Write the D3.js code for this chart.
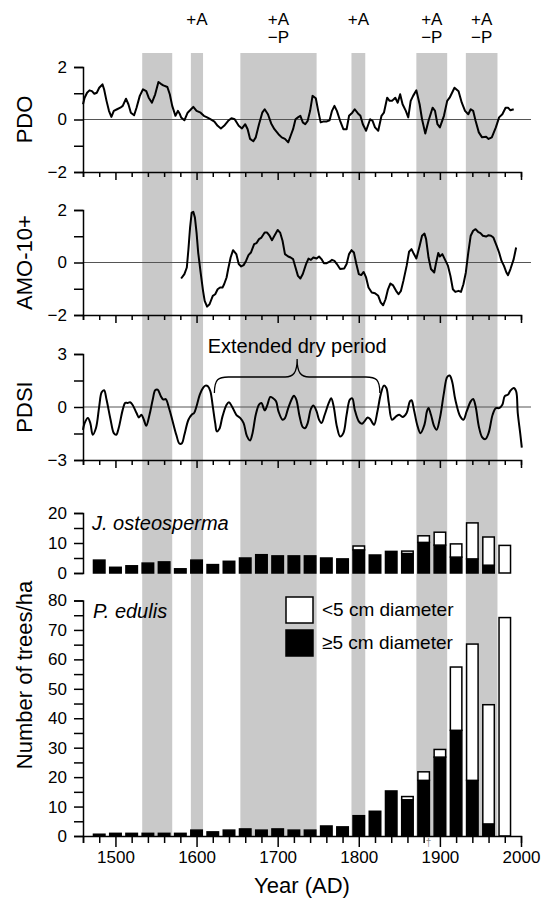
<!DOCTYPE html>
<html>
<head>
<meta charset="utf-8">
<script src="https://cdn.jsdelivr.net/npm/d3@7"></script>
<style>
  body { margin: 0; background: #fff; }
  svg { font-family: "Liberation Sans", Arial, Helvetica, sans-serif; }
</style>
</head>
<body>
<div id="chart"></div>
<script>
// shaded periods (years) and the labels above them
const bandStart = [1533, 1593, 1654, 1791, 1871, 1932];
const bandEnd   = [1570, 1608, 1748, 1808, 1909, 1971];
const bandLabels = [[], ["+A"], ["+A", "\u2212P"], ["+A"], ["+A", "\u2212P"], ["+A", "\u2212P"]];

// [year, value]
const pdo = [
  [1460,0.58],[1462,0.83],[1465,1.02],[1468,1.11],[1471,1.08],[1474,0.98],[1477,1.02],[1480,1.21],
  [1484,1.34],[1486,1.15],[1489,0.71],[1492,0.33],[1495,0.10],[1498,0.33],[1502,0.39],[1506,0.45],
  [1509,0.52],[1513,0.79],[1516,0.58],[1519,0.26],[1523,0.16],[1526,0.45],[1530,0.90],[1534,1.15],
  [1538,1.08],[1541,0.83],[1545,0.64],[1549,0.96],[1553,1.43],[1556,1.36],[1559,1.30],[1564,1.24],
  [1567,0.96],[1570,0.52],[1574,0.14],[1577,0.33],[1579,0.23],[1581,0.08],[1585,-0.03],[1589,0.26],
  [1592,0.35],[1596,0.48],[1600,0.33],[1605,0.26],[1609,0.14],[1613,0.08],[1617,0.01],[1622,-0.08],
  [1626,-0.24],[1630,-0.34],[1634,-0.24],[1639,-0.05],[1643,0.05],[1647,0.01],[1652,-0.24],[1656,-0.34],
  [1660,-0.18],[1663,-0.37],[1666,-0.74],[1670,-0.83],[1673,-0.68],[1677,-0.18],[1681,0.26],[1684,0.39],
  [1688,0.20],[1692,-0.15],[1696,-0.37],[1701,-0.56],[1705,-0.68],[1709,-0.74],[1713,-0.87],[1716,-0.62],
  [1719,-0.37],[1722,0.01],[1725,0.08],[1728,0.14],[1731,-0.11],[1734,-0.18],[1737,-0.05],[1740,0.33],
  [1743,0.90],[1747,0.81],[1750,0.33],[1753,-0.11],[1756,-0.08],[1760,-0.08],[1764,-0.03],[1767,0.33],
  [1770,0.52],[1773,0.33],[1777,-0.05],[1781,-0.37],[1785,-0.37],[1788,0.14],[1792,0.26],[1795,0.39],
  [1799,0.23],[1802,0.14],[1805,-0.18],[1809,-0.43],[1814,0.01],[1817,-0.05],[1820,-0.30],[1824,-0.43],
  [1828,0.14],[1831,0.26],[1835,0.83],[1838,0.71],[1841,0.71],[1845,0.83],[1848,0.64],[1851,0.96],
  [1854,0.58],[1858,0.33],[1861,0.08],[1864,0.71],[1867,0.90],[1871,1.11],[1875,0.58],[1878,0.01],
  [1882,-0.53],[1886,-0.05],[1891,0.45],[1894,0.33],[1897,-0.18],[1900,-0.30],[1905,0.14],[1909,0.71],
  [1912,0.83],[1915,1.02],[1918,1.21],[1923,1.08],[1927,0.64],[1931,0.33],[1935,0.20],[1938,0.39],
  [1941,0.33],[1944,-0.05],[1948,-0.49],[1952,-0.68],[1957,-0.66],[1960,-0.74],[1964,-0.68],[1969,-0.30],
  [1973,0.08],[1977,0.20],[1981,0.45],[1984,0.45],[1987,0.35],[1991,0.39]
];

const amo = [
  [1581,-0.61],[1585,-0.44],[1588,-0.19],[1590,0.51],[1592,1.33],[1594,1.90],[1596,1.93],[1598,1.71],
  [1600,1.14],[1602,0.38],[1605,-0.38],[1608,-1.08],[1610,-1.46],[1613,-1.68],[1616,-1.59],[1620,-1.27],
  [1623,-1.21],[1626,-1.02],[1629,-0.95],[1632,-0.95],[1634,-0.83],[1637,-0.57],[1639,-0.25],[1642,0.19],
  [1645,0.47],[1649,0.32],[1652,-0.06],[1655,-0.15],[1658,-0.10],[1661,0.06],[1664,0.28],[1667,0.38],
  [1671,0.70],[1674,0.74],[1677,0.89],[1680,0.95],[1684,1.14],[1687,1.14],[1690,1.02],[1693,0.85],
  [1696,1.02],[1700,1.24],[1703,1.14],[1706,0.83],[1709,0.32],[1713,0.23],[1716,0.19],[1719,0.13],
  [1722,-0.19],[1725,-0.51],[1728,-0.61],[1731,-0.44],[1735,-0.06],[1738,0.15],[1741,0.10],[1744,0.19],
  [1748,0.15],[1751,0.23],[1754,0.13],[1757,-0.03],[1760,-0.03],[1764,0.03],[1767,0.10],[1770,0.06],
  [1773,-0.06],[1777,-0.25],[1782,-0.23],[1785,-0.06],[1788,0.32],[1791,0.47],[1794,0.38],[1797,-0.06],
  [1800,-0.44],[1803,-0.48],[1806,-0.36],[1809,-0.57],[1812,-0.95],[1816,-1.14],[1820,-1.17],[1824,-1.27],
  [1827,-1.52],[1830,-1.63],[1833,-1.40],[1836,-1.02],[1839,-0.80],[1842,-0.86],[1846,-1.08],[1849,-1.21],
  [1852,-1.08],[1855,-0.70],[1859,-0.13],[1862,0.41],[1865,0.51],[1868,0.32],[1871,0.15],[1875,0.63],
  [1878,1.02],[1881,1.10],[1883,0.89],[1886,0.19],[1889,-0.25],[1893,-0.38],[1895,-0.06],[1898,0.36],
  [1900,0.23],[1903,0.32],[1906,0.13],[1910,-0.13],[1913,-0.51],[1916,-1.02],[1919,-1.12],[1923,-1.08],
  [1926,-1.12],[1929,-0.83],[1932,-0.38],[1935,0.38],[1938,1.02],[1941,1.21],[1944,1.27],[1947,1.17],
  [1950,1.12],[1953,1.02],[1957,0.99],[1960,1.04],[1963,1.02],[1966,0.95],[1970,0.63],[1973,0.38],
  [1976,0.06],[1979,-0.13],[1982,-0.38],[1984,-0.48],[1987,-0.25],[1991,0.13],[1994,0.57]
];

const pdsi = [
  [1460,-1.30],[1462,-0.91],[1466,-0.62],[1469,-0.91],[1472,-1.57],[1476,-1.19],[1480,0.04],[1483,0.83],
  [1486,0.95],[1489,0.42],[1494,-0.72],[1498,-1.48],[1501,-1.57],[1504,-1.19],[1509,-0.15],[1512,0.23],
  [1515,0.23],[1518,0.27],[1521,0.13],[1526,-0.34],[1529,-0.59],[1532,-0.44],[1535,-0.72],[1538,-1.06],
  [1542,-0.44],[1546,0.42],[1549,0.95],[1552,0.98],[1556,0.61],[1559,0.42],[1562,0.45],[1566,-0.06],
  [1570,-0.72],[1575,-1.57],[1579,-2.08],[1582,-2.05],[1585,-1.57],[1590,-0.72],[1594,-0.44],[1597,-0.34],
  [1600,0.04],[1604,0.70],[1608,1.08],[1611,1.21],[1614,1.17],[1617,0.89],[1620,0.04],[1623,-0.91],
  [1625,-1.38],[1628,-1.25],[1632,-0.53],[1637,0.13],[1640,0.27],[1644,0.00],[1649,-0.44],[1654,-0.63],
  [1658,-0.91],[1662,-1.63],[1666,-1.89],[1669,-1.48],[1673,-0.44],[1677,0.13],[1680,0.23],[1684,-0.19],
  [1687,0.08],[1691,0.57],[1694,0.51],[1698,0.32],[1701,-0.25],[1706,-0.72],[1709,-0.63],[1713,-0.06],
  [1718,0.51],[1720,0.64],[1723,0.42],[1727,-0.53],[1731,-1.14],[1734,-1.19],[1737,-0.91],[1741,-0.11],
  [1744,0.08],[1748,-0.25],[1751,-0.72],[1754,-0.91],[1758,-0.44],[1763,0.23],[1766,0.49],[1769,0.04],
  [1773,-1.10],[1777,-1.67],[1781,-1.48],[1785,-0.44],[1789,0.42],[1792,0.49],[1795,-0.15],[1800,-0.81],
  [1804,-0.95],[1807,-0.81],[1811,-0.59],[1814,-0.68],[1817,-0.91],[1819,-1.00],[1823,-0.25],[1827,0.70],
  [1831,1.21],[1834,1.08],[1837,0.23],[1841,-0.72],[1846,-0.53],[1850,-0.44],[1854,-0.57],[1859,-0.34],
  [1863,0.32],[1865,0.38],[1868,-0.15],[1872,-1.00],[1876,-1.48],[1881,-1.00],[1884,-0.25],[1886,-0.06],
  [1889,-0.44],[1893,-1.10],[1896,-1.29],[1900,-0.63],[1905,0.80],[1909,1.70],[1912,1.78],[1915,1.46],
  [1919,0.42],[1925,-0.53],[1929,-0.72],[1933,-0.25],[1938,0.32],[1941,0.45],[1944,0.04],[1948,-1.10],
  [1952,-1.70],[1956,-1.82],[1960,-1.48],[1965,-0.44],[1969,-0.06],[1973,-0.06],[1977,0.13],[1980,0.61],
  [1984,0.70],[1987,0.93],[1991,1.08],[1994,0.89],[1996,-0.34],[1999,-1.48],[2001,-2.30]
];
const dryPeriod = [1622, 1826];

// trees/ha per 20-yr class: large = >=5 cm, small = <5 cm
const barYears = d3.range(1480, 1981, 20);
const juniperLarge = [4.3,1.9,2.4,3.3,3.7,1.4,4.3,2.8,3.9,5.0,6.1,5.7,5.7,5.7,5.0,4.7,7.7,6.0,7.2,6.5,10.2,9.3,5.3,4.7,2.6,0];
const juniperSmall = [0,0,0,0,0,0,0,0,0,0,0,0,0,0,0,0,1.3,0,0,0.8,2.2,4.3,4.4,12.0,9.4,9.2];
const pinyonLarge  = [0.6,0.9,0.9,0.9,0.9,0.9,2.0,1.4,2.0,2.4,2.0,2.4,2.0,2.0,3.4,3.1,6.9,8.4,15.3,12.3,18.9,26.8,35.9,18.9,4.1,0];
const pinyonSmall  = [0,0,0,0,0,0,0,0,0,0,0,0,0,0,0,0,0,0,0,1.1,2.9,2.6,21.5,46.3,40.5,74.2];

const width = 556, height = 905;
const svg = d3.select("#chart").append("svg")
    .attr("width", width).attr("height", height);

const x = d3.scaleLinear().domain([1460, 2000]).range([83, 521]);
const yPdo  = d3.scaleLinear().domain([-2, 2]).range([172, 67]);
const yAmo  = d3.scaleLinear().domain([-2, 2]).range([315, 210]);
const yPdsi = d3.scaleLinear().domain([-3, 3]).range([460, 354]);
const yJun  = d3.scaleLinear().domain([0, 20]).range([573, 513]);
const yPin  = d3.scaleLinear().domain([0, 80]).range([836, 600.5]);

// grey bands
svg.append("g").selectAll("rect")
    .data(bandStart)
    .join("rect")
    .attr("x", (d, i) => x(d))
    .attr("width", (d, i) => x(bandEnd[i]) - x(d))
    .attr("y", 53)
    .attr("height", yPin(0) - 53)
    .attr("fill", "#c9c9c9");

// labels above the bands
bandLabels.forEach((lines, i) => {
    const cx = x((bandStart[i] + bandEnd[i]) / 2);
    lines.forEach((t, j) => {
        svg.append("text")
            .attr("x", cx).attr("y", 25 + j * 18)
            .attr("text-anchor", "middle")
            .attr("font-size", 17)
            .text(t);
    });
});

function yAxis(scale, ticks, labels) {
    return d3.axisLeft(scale).tickValues(ticks).tickSize(9).tickPadding(7)
        .tickFormat(d => labels.includes(d) ? d3.format("d")(d) : "");
}

function panelXAxis(yPos) {
    const g = svg.append("g")
        .attr("transform", `translate(0,${yPos})`)
        .call(d3.axisBottom(x).tickValues(d3.range(1460, 2001, 20)).tickSize(5).tickFormat(""));
    g.selectAll(".tick line").filter(d => d % 100 === 0).attr("y2", 8);
    return g;
}

function zeroLine(scale) {
    svg.append("line")
        .attr("x1", x(1460)).attr("x2", x(2000) + 10)
        .attr("y1", scale(0)).attr("y2", scale(0))
        .attr("stroke", "#555").attr("stroke-width", 1);
}

function series(data, scale, curve) {
    svg.append("path")
        .datum(data)
        .attr("fill", "none")
        .attr("stroke", "#000")
        .attr("stroke-width", 2)
        .attr("stroke-linejoin", "round")
        .attr("d", d3.line().x(d => x(d[0])).y(d => scale(d[1])).curve(curve));
}

function yTitle(text, cy) {
    svg.append("text")
        .attr("transform", `translate(24,${cy}) rotate(-90)`)
        .attr("text-anchor", "middle")
        .attr("dy", "0.36em")
        .attr("font-size", 22)
        .text(text);
}

// PDO
zeroLine(yPdo);
series(pdo, yPdo, d3.curveLinear);
svg.append("g").attr("transform", `translate(${x(1460)},0)`)
    .call(yAxis(yPdo, [-2, -1, 0, 1, 2], [-2, 0, 2]));
panelXAxis(yPdo(-2));
yTitle("PDO", yPdo(0));

// AMO
zeroLine(yAmo);
series(amo, yAmo, d3.curveLinear);
svg.append("g").attr("transform", `translate(${x(1460)},0)`)
    .call(yAxis(yAmo, [-2, -1, 0, 1, 2], [-2, 0, 2]));
panelXAxis(yAmo(-2));
yTitle("AMO-10+", yAmo(0));

// PDSI
zeroLine(yPdsi);
series(pdsi, yPdsi, d3.curveCatmullRom);
svg.append("g").attr("transform", `translate(${x(1460)},0)`)
    .call(yAxis(yPdsi, [-3, -1.5, 0, 1.5, 3], [-3, 0, 3]));
panelXAxis(yPdsi(-3));
yTitle("PDSI", yPdsi(0));

// brace over the extended dry period
{
    const x0 = x(dryPeriod[0]), x1 = x(dryPeriod[1]), xm = (x0 + x1) / 2;
    const yb = 393, yh = 377, yt = 359;
    const p = d3.path();
    p.moveTo(x0, yb);
    p.bezierCurveTo(x0, yh + 2, x0 + 4, yh, x0 + 14, yh);
    p.lineTo(xm - 12, yh);
    p.bezierCurveTo(xm - 4, yh, xm, yh - 4, xm, yt);
    p.bezierCurveTo(xm, yh - 4, xm + 4, yh, xm + 12, yh);
    p.lineTo(x1 - 14, yh);
    p.bezierCurveTo(x1 - 4, yh, x1, yh + 2, x1, yb);
    svg.append("path").attr("d", p.toString())
        .attr("fill", "none").attr("stroke", "#000").attr("stroke-width", 1.3);
    svg.append("text")
        .attr("x", xm).attr("y", 353)
        .attr("text-anchor", "middle")
        .attr("font-size", 20)
        .text("Extended dry period");
}

// stacked bars
const barW = 11.5;
function bars(large, small, scale) {
    const g = svg.append("g").attr("stroke", "#000").attr("stroke-width", 1.5);
    barYears.forEach((yr, i) => {
        const l = large[i], s = small[i];
        if (l > 0) {
            g.append("rect")
                .attr("x", x(yr) - barW / 2).attr("width", barW)
                .attr("y", scale(l)).attr("height", scale(0) - scale(l))
                .attr("fill", "#000");
        }
        if (s > 0) {
            g.append("rect")
                .attr("x", x(yr) - barW / 2).attr("width", barW)
                .attr("y", scale(l + s)).attr("height", scale(l) - scale(l + s))
                .attr("fill", "#fff");
        }
    });
}

// J. osteosperma
bars(juniperLarge, juniperSmall, yJun);
svg.append("g").attr("transform", `translate(${x(1460)},0)`)
    .call(yAxis(yJun, [0, 5, 10, 15, 20], [0, 10, 20]));
svg.append("text")
    .attr("x", 92).attr("y", 530)
    .attr("font-size", 20).attr("font-style", "italic")
    .text("J. osteosperma");

// P. edulis
bars(pinyonLarge, pinyonSmall, yPin);
svg.append("g").attr("transform", `translate(${x(1460)},0)`)
    .call(yAxis(yPin, d3.range(0, 81, 5), d3.range(0, 81, 10)));
svg.append("text")
    .attr("x", 93).attr("y", 618)
    .attr("font-size", 20).attr("font-style", "italic")
    .text("P. edulis");

const xAx = svg.append("g")
    .attr("transform", `translate(0,${yPin(0)})`)
    .call(d3.axisBottom(x).tickValues(d3.range(1460, 2001, 20)).tickSize(7).tickPadding(5)
        .tickFormat(d => d % 100 === 0 ? d : ""));
xAx.selectAll(".tick line").filter(d => d % 100 === 0).attr("y2", 11);
xAx.selectAll(".tick text").filter(d => d % 100 === 0).attr("y", 15);

// small dagger under the 1880s class
svg.append("text")
    .attr("x", x(1886)).attr("y", 846)
    .attr("text-anchor", "middle")
    .attr("font-size", 10).attr("fill", "#888")
    .text("\u2020");

svg.append("text")
    .attr("x", (x(1460) + x(2000)) / 2).attr("y", 893)
    .attr("text-anchor", "middle")
    .attr("font-size", 22)
    .text("Year (AD)");

yTitle("Number of trees/ha", 675);

// legend
const legend = svg.append("g");
[["#fff", "<5 cm diameter", 597], ["#000", "\u22655 cm diameter", 630]].forEach(([fill, label, ly]) => {
    legend.append("rect")
        .attr("x", 286).attr("y", ly).attr("width", 27).attr("height", 26)
        .attr("fill", fill).attr("stroke", "#000").attr("stroke-width", 1.5);
    legend.append("text")
        .attr("x", 322).attr("y", ly + 19)
        .attr("font-size", 19)
        .text(label);
});

// axis styling
svg.selectAll(".domain").attr("stroke", "#000").attr("stroke-width", 1.5);
svg.selectAll(".tick line").attr("stroke", "#000").attr("stroke-width", 1.5);
svg.selectAll(".tick text").attr("font-size", 17).attr("fill", "#000")
    .attr("font-family", "'Liberation Sans', Arial, Helvetica, sans-serif");
</script>
</body>
</html>
